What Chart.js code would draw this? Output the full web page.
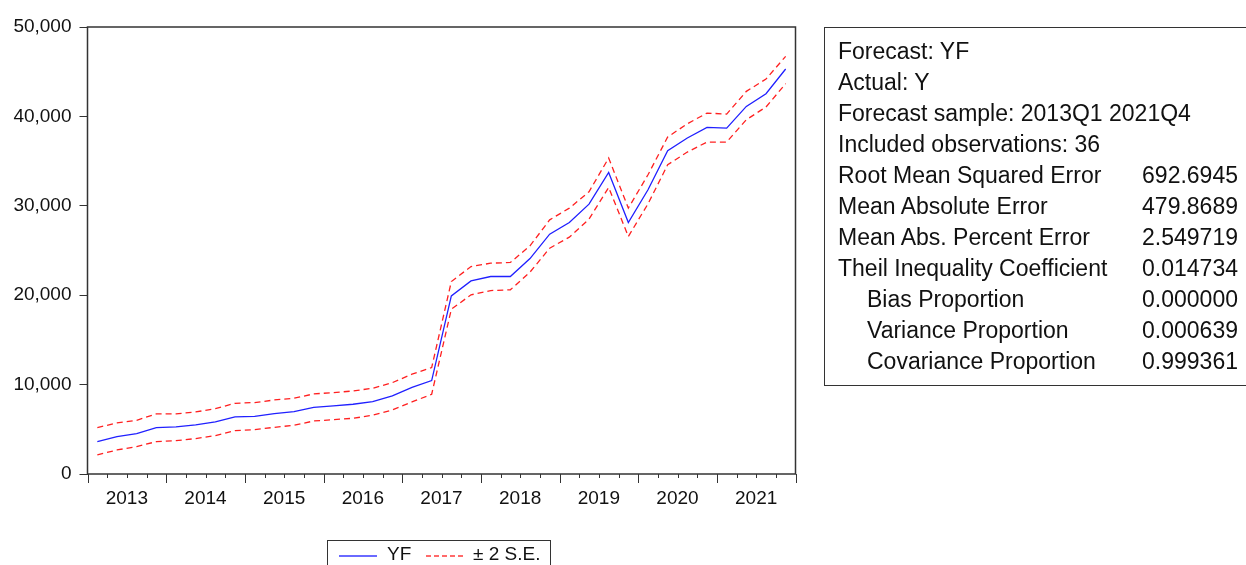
<!DOCTYPE html>
<html>
<head>
<meta charset="utf-8">
<script src="https://cdn.jsdelivr.net/npm/chart.js"></script>
<style>
  html, body { margin: 0; padding: 0; background: #fff; }
  #wrap { position: relative; width: 1246px; height: 565px; overflow: hidden; font-family: "Liberation Sans", Arial, sans-serif; color: #111; }
  #chartBox { position: absolute; left: 0; top: 0; width: 1246px; height: 565px; }
  .stats { position: absolute; left: 824px; top: 27px; width: 440px; height: 359px; border: 1px solid #333; box-sizing: border-box; padding: 8px 0 0 13px; font-size: 23px; line-height: 31px; }
  .stats .row { position: relative; width: 400px; height: 31px; white-space: nowrap; }
  .stats .row.sub { padding-left: 29px; box-sizing: border-box; }
  .stats .val { position: absolute; right: 0; top: 0; }
  .legend { position: absolute; left: 327px; top: 540px; width: 224px; height: 40px; border: 1px solid #333; box-sizing: border-box; font-size: 19px; }
  .legend .ln { position: absolute; top: 14px; height: 2px; }
  .legend .solid { background: #6a6aff; }
  .legend .dash { background: repeating-linear-gradient(to right, #ff6a6a 0 5px, transparent 5px 8px); }
  .legend .txt { position: absolute; top: 2px; line-height: 22px; }
</style>
</head>
<body>
<div id="wrap">
  <div id="chartBox"><canvas id="forecastChart"></canvas></div>

  <div class="stats" id="stats"></div>

  <div class="legend">
    <div class="ln solid" style="left:11px; width:38px;"></div>
    <div class="txt" style="left:59px;">YF</div>
    <div class="ln dash" style="left:98px; width:37px;"></div>
    <div class="txt" style="left:145px;">± 2 S.E.</div>
  </div>
</div>

<script>
// quarterly sample 2013Q1 - 2021Q4
const quarters = [
  '2013Q1', '2013Q2', '2013Q3', '2013Q4', '2014Q1', '2014Q2', '2014Q3', '2014Q4',
  '2015Q1', '2015Q2', '2015Q3', '2015Q4', '2016Q1', '2016Q2', '2016Q3', '2016Q4',
  '2017Q1', '2017Q2', '2017Q3', '2017Q4', '2018Q1', '2018Q2', '2018Q3', '2018Q4',
  '2019Q1', '2019Q2', '2019Q3', '2019Q4', '2020Q1', '2020Q2', '2020Q3', '2020Q4',
  '2021Q1', '2021Q2', '2021Q3', '2021Q4'
];

// forecast YF
const yf = [
  3620, 4180, 4515, 5190, 5260, 5485, 5820, 6380,
  6455, 6755, 6980, 7460, 7610, 7800, 8100, 8730,
  9700, 10450, 19925, 21600, 22090, 22090, 24100, 26830,
  28130, 30190, 33730, 28130, 31790, 36160, 37580, 38770,
  38690, 41120, 42540, 45300
];

// YF + 2 S.E.
const upper = [
  5190, 5710, 6010, 6720, 6720, 6940, 7310, 7910,
  7990, 8280, 8470, 8960, 9100, 9290, 9590, 10220,
  11160, 11900, 21530, 23210, 23580, 23660, 25520, 28430,
  29740, 31570, 35340, 29740, 33470, 37690, 39180, 40370,
  40260, 42800, 44180, 46720
];

// YF - 2 S.E.
const lower = [
  2130, 2690, 3060, 3620, 3730, 3960, 4290, 4850,
  4960, 5220, 5450, 5930, 6080, 6230, 6570, 7160,
  8060, 8920, 18430, 20040, 20520, 20600, 22580, 25260,
  26490, 28510, 32050, 26570, 30220, 34590, 36010, 37130,
  37130, 39630, 41050, 43660
];

const yTicks = [0, 10000, 20000, 30000, 40000, 50000];

const statLabels = [
  'Forecast: YF',
  'Actual: Y',
  'Forecast sample: 2013Q1 2021Q4',
  'Included observations: 36',
  'Root Mean Squared Error',
  'Mean Absolute Error',
  'Mean Abs. Percent Error',
  'Theil Inequality Coefficient',
  'Bias Proportion',
  'Variance Proportion',
  'Covariance Proportion'
];
const statValues = ['', '', '', '', '692.6945', '479.8689', '2.549719', '0.014734', '0.000000', '0.000639', '0.999361'];
const statIndent = [false, false, false, false, false, false, false, false, true, true, true];

const statsEl = document.getElementById('stats');
statLabels.forEach((label, i) => {
  const row = document.createElement('div');
  row.className = statIndent[i] ? 'row sub' : 'row';
  row.textContent = label;
  if (statValues[i]) {
    const v = document.createElement('span');
    v.className = 'val';
    v.textContent = statValues[i];
    row.appendChild(v);
  }
  statsEl.appendChild(row);
});

const AXIS_COLOR = '#333';
const FONT = '"Liberation Sans", Arial, sans-serif';

// frame around the plot and quarter / year tick marks under it
const frameAndTicks = {
  id: 'frameAndTicks',
  afterDraw(chart) {
    const { ctx, chartArea: a, scales: { x } } = chart;
    ctx.save();
    ctx.strokeStyle = AXIS_COLOR;
    ctx.lineWidth = 1.5;
    ctx.strokeRect(a.left, a.top, a.width, a.height);
    ctx.lineWidth = 1;
    for (let i = 0; i <= quarters.length; i++) {
      const px = Math.round(x.getPixelForValue(i - 0.5)) + 0.5;
      const len = i % 4 === 0 ? 9 : 4;
      ctx.beginPath();
      ctx.moveTo(px, a.bottom);
      ctx.lineTo(px, a.bottom + len);
      ctx.stroke();
    }
    ctx.restore();
  }
};

const lineBase = { fill: false, pointRadius: 0, pointHoverRadius: 0, tension: 0, borderWidth: 1.3 };

new Chart(document.getElementById('forecastChart'), {
  type: 'line',
  data: {
    labels: quarters,
    datasets: [
      { ...lineBase, label: '+2 S.E.', data: upper, borderColor: '#ff2020', borderDash: [6, 4] },
      { ...lineBase, label: '-2 S.E.', data: lower, borderColor: '#ff2020', borderDash: [6, 4] },
      { ...lineBase, label: 'YF', data: yf, borderColor: '#2020ff' }
    ]
  },
  options: {
    responsive: true,
    maintainAspectRatio: false,
    animation: false,
    layout: { padding: { left: 0, top: 27, right: 450.5, bottom: 0 } },
    plugins: {
      legend: { display: false },
      tooltip: { enabled: false }
    },
    scales: {
      x: {
        type: 'category',
        offset: true,
        border: { display: false },
        grid: { display: true, offset: true, drawOnChartArea: false, drawTicks: false },
        ticks: {
          autoSkip: false,
          maxRotation: 0,
          minRotation: 0,
          padding: 13,
          labelOffset: 9.83,
          color: '#111',
          font: { family: FONT, size: 19 },
          callback: (value, index) => index % 4 === 1 ? quarters[index].slice(0, 4) : ''
        },
        afterFit: (scale) => { scale.height = 91; }
      },
      y: {
        min: 0,
        max: 50000,
        border: { display: false },
        grid: { drawOnChartArea: false, drawTicks: true, tickLength: 8, tickColor: AXIS_COLOR, tickWidth: 1 },
        afterBuildTicks: (scale) => { scale.ticks = yTicks.map(v => ({ value: v })); },
        ticks: {
          padding: 8,
          color: '#111',
          font: { family: FONT, size: 19 },
          callback: (value) => value.toLocaleString('en-US')
        },
        afterFit: (scale) => { scale.width = 87.5; }
      }
    }
  },
  plugins: [frameAndTicks]
});
</script>
</body>
</html>
